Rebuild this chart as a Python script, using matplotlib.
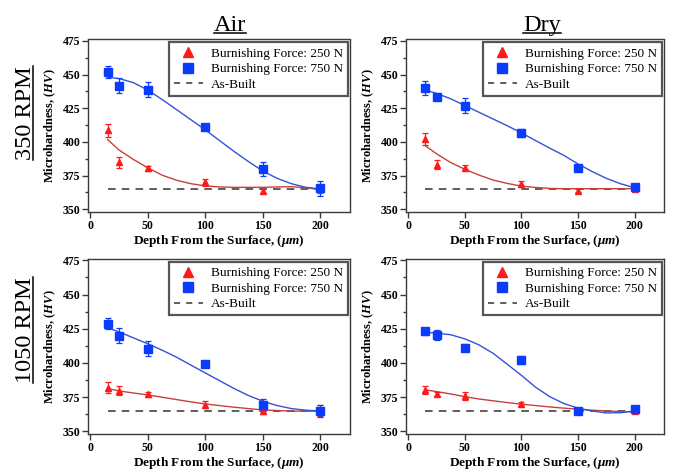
import matplotlib
matplotlib.use('Agg')
import matplotlib.pyplot as plt
from matplotlib.ticker import MultipleLocator
from matplotlib.lines import Line2D

plt.rcParams['font.family'] = ['Liberation Serif', 'DejaVu Serif']
plt.rcParams['mathtext.fontset'] = 'custom'
plt.rcParams['mathtext.rm'] = 'Liberation Serif'
plt.rcParams['mathtext.it'] = 'Liberation Serif:italic'
plt.rcParams['mathtext.bf'] = 'Liberation Serif:bold'
plt.rcParams['mathtext.bfit'] = 'Liberation Serif:italic:bold'

# data
depth = [15, 25, 50, 100, 150, 200]
fit_depth = [15, 25, 37.5, 50, 62.5, 75, 87.5, 100, 112.5, 125, 137.5, 150, 162.5, 175, 187.5, 200]
as_built = 365

columns = ['Air', 'Dry']
rows = ['350 RPM', '1050 RPM']

air350_250 = [408.5, 385, 380.5, 370, 363.8, 365]
air350_250_err = [4.5, 4, 2, 2.5, 1.5, 3]
air350_750 = [451.7, 441.6, 438.6, 411, 379.8, 365.6]
air350_750_err = [4.5, 5.5, 5.5, 2, 5, 5.5]
air350_250_fit = [401.8, 394, 387, 380.8, 375.3, 371.6, 369, 367.4, 366.6, 366.3, 366.3, 366.3,
                  366.6, 366.8, 366, 364.6]
air350_750_fit = [448, 447, 444, 438.5, 431.5, 424, 416.5, 409, 401, 393, 385.5, 378.5,
                  373, 369, 366.3, 365.2]

dry350_250 = [402.4, 383.2, 380.7, 368.8, 363.8, 365]
dry350_250_err = [4.4, 3.4, 1.9, 2.1, 1, 1]
dry350_750 = [440, 433.6, 426.9, 406.9, 380.7, 366.3]
dry350_750_err = [5, 2.1, 5.6, 3, 2.5, 1.6]
dry350_250_fit = [397.2, 391.2, 384.7, 379.7, 375.4, 371.7, 369.2, 367.2, 366.2, 365.5, 365.3,
                  365.3, 365.3, 365.3, 365.3, 365.3]
dry350_750_fit = [438.5, 436, 432, 427, 422, 417, 412, 406.7, 401, 395.4, 390, 383.7,
                  378, 373, 369, 366]

air1050_250 = [381.7, 379.8, 376.9, 369.5, 365.1, 365]
air1050_250_err = [4, 3.4, 1.7, 2.4, 2.2, 4]
air1050_750 = [428.6, 420, 410.5, 399.3, 369.5, 365]
air1050_750_err = [4, 5.4, 5.5, 2, 3.9, 4.5]
air1050_250_fit = [381.3, 379.5, 378, 376.6, 374.9, 373.2, 371.5, 370, 368.8, 367.6, 366.6,
                   365.6, 365.2, 364.7, 364.7, 364.7]
air1050_750_fit = [425.7, 422.7, 418.3, 414, 409.3, 404.2, 398.4, 392.7, 387, 381.3, 376.2,
                   372, 368.8, 366.6, 365.4, 364.9]

dry1050_250 = [380, 377, 376, 370, 365.5, 365]
dry1050_250_err = [3, 1.5, 3, 1.5, 1, 1]
dry1050_750 = [423, 420.5, 411, 402, 365, 366]
dry1050_750_err = [2.5, 3.5, 2.5, 3, 1, 1.5]
dry1050_250_fit = [380.3, 379, 377.3, 375.3, 373.6, 372.3, 371, 369.8, 368.8, 367.8, 366.9,
                   366.2, 365.4, 364.9, 364.4, 364.2]
dry1050_750_fit = [422.3, 421.8, 420.6, 417.6, 413.2, 407, 399, 390.9, 382.2, 375.3, 370.3,
                   366.9, 364.9, 363.4, 363.6, 364.9]

panels = [
    (air350_250, air350_250_err, air350_750, air350_750_err, air350_250_fit, air350_750_fit),
    (dry350_250, dry350_250_err, dry350_750, dry350_750_err, dry350_250_fit, dry350_750_fit),
    (air1050_250, air1050_250_err, air1050_750, air1050_750_err, air1050_250_fit, air1050_750_fit),
    (dry1050_250, dry1050_250_err, dry1050_750, dry1050_750_err, dry1050_250_fit, dry1050_750_fit),
]

W, H = 673, 473
fig = plt.figure(figsize=(W / 100, H / 100), dpi=100)

# axes boxes in pixels: left, top, right, bottom
boxes = [(88, 39.5, 350, 212), (406, 39.5, 664, 212),
         (88, 259, 350, 434), (406, 259, 664, 434)]

RED = '#ff1a1a'
BLUE = '#0a3cff'
RED_FIT = '#c8403c'
BLUE_FIT = '#3352d6'
SPINE = '#3a3a3a'

for (l, t, r, b), (y250, e250, y750, e750, f250, f750) in zip(boxes, panels):
    ax = fig.add_axes([l / W, 1 - b / H, (r - l) / W, (b - t) / H])
    ax.plot(fit_depth, f250, color=RED_FIT, lw=1.0, zorder=2)
    ax.plot(fit_depth, f750, color=BLUE_FIT, lw=1.0, zorder=2)
    ax.plot([depth[0], depth[-1]], [as_built, as_built], color='#333333', lw=1.1,
            ls=(0, (5, 4)), zorder=1)
    ax.errorbar(depth, y250, yerr=e250, fmt='^', color=RED, ms=5, capsize=2,
                elinewidth=0.9, capthick=0.9, zorder=3)
    ax.errorbar(depth, y750, yerr=e750, fmt='s', color=BLUE, ms=5.5, capsize=2,
                elinewidth=0.9, capthick=0.9, zorder=3)

    ax.set_xlim(-2, 226)
    ax.set_ylim(348, 476)
    ax.set_xticks([0, 50, 100, 150, 200])
    ax.set_yticks([350, 375, 400, 425, 450, 475])
    ax.yaxis.set_minor_locator(MultipleLocator(12.5))
    ax.tick_params(which='major', direction='out', length=4, width=1, colors=SPINE,
                   labelcolor='black', labelsize=8.5, pad=1.5)
    ax.tick_params(which='minor', direction='out', length=2.5, width=1, colors=SPINE)
    for lab in ax.get_xticklabels() + ax.get_yticklabels():
        lab.set_fontweight('bold')
    for s in ax.spines.values():
        s.set_color(SPINE)
        s.set_linewidth(1.0)

    ax.set_xlabel(r'Depth From the Surface, ($\mathbfit{\mu m}$)', fontsize=9.5,
                  fontweight='bold', labelpad=1)
    ax.set_ylabel(r'Microhardness, ($\mathbfit{HV}$)', fontsize=9,
                  fontweight='bold', labelpad=3)

    handles = [Line2D([], [], ls='none', marker='^', color=RED, ms=7),
               Line2D([], [], ls='none', marker='s', color=BLUE, ms=7),
               Line2D([], [], ls=(0, (4, 4)), color='#333333', lw=1.1)]
    labels = ['Burnishing Force: 250 N', 'Burnishing Force: 750 N', 'As-Built']
    leg = ax.legend(handles, labels, loc='upper right', bbox_to_anchor=(0.993, 0.985),
                    borderaxespad=0, fontsize=9.5, fancybox=False, framealpha=1,
                    handlelength=2.2, handletextpad=0.6, labelspacing=0.25,
                    borderpad=0.4)
    leg.get_frame().set_edgecolor('#555555')
    leg.get_frame().set_linewidth(1.6)

# column and row headings, underlined
title_y = 1 - 31 / H
col_x = [230 / W, 542 / W]
row_y = [1 - 113 / H, 1 - 330 / H]
row_x = 31 / W

fig.canvas.draw()
inv = fig.transFigure.inverted()
for name, x in zip(columns, col_x):
    t = fig.text(x, title_y, name, fontsize=17.5, ha='center', va='baseline')
    fig.canvas.draw()
    bb = t.get_window_extent().transformed(inv)
    fig.add_artist(Line2D([bb.x0, bb.x1], [title_y - 2 / H] * 2, color='black', lw=1.1))

for name, y in zip(rows, row_y):
    t = fig.text(row_x, y, name, fontsize=17.5, rotation=90, rotation_mode='anchor',
                 ha='center', va='baseline')
    fig.canvas.draw()
    bb = t.get_window_extent().transformed(inv)
    fig.add_artist(Line2D([row_x + 2 / W] * 2, [bb.y0, bb.y1], color='black', lw=1.1))

fig.savefig('out.png', dpi=100)
